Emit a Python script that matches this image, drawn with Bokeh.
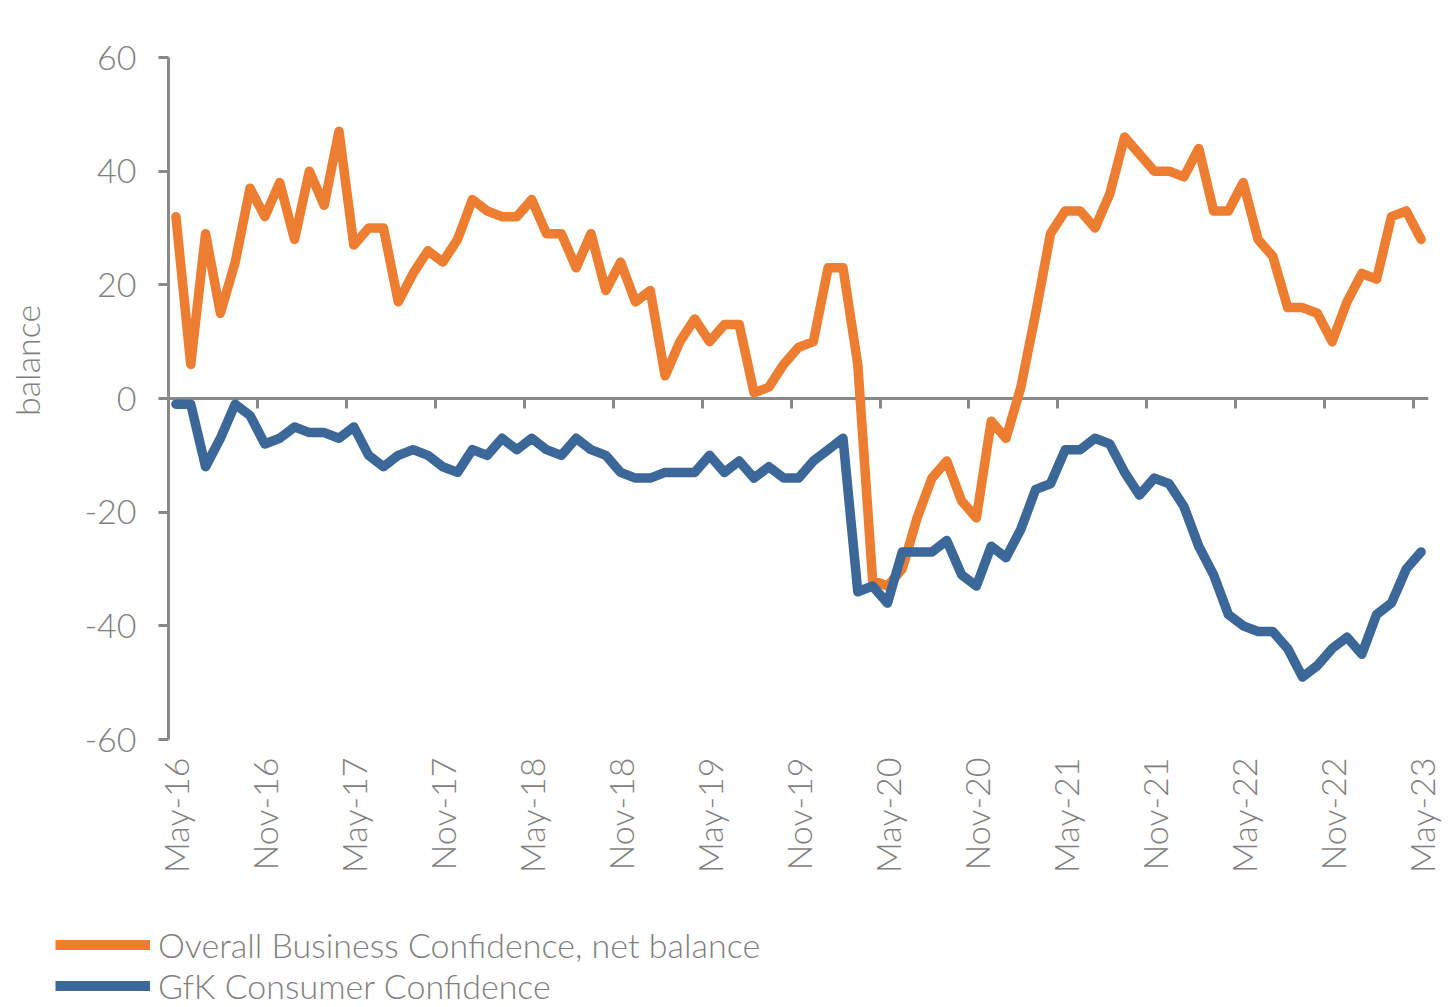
import numpy as np
import pandas as pd
from bokeh.plotting import figure
from bokeh.layouts import column, row
from bokeh.models import LinearAxis, FixedTicker, Legend, LegendItem, Range1d, Label
from bokeh.embed import file_html
from bokeh.resources import INLINE

# ---- data -------------------------------------------------------------
months = list(pd.date_range("2016-05-01", periods=85, freq="MS").strftime("%b-%y"))

business = [32, 6, 29, 15, 24, 37, 32, 38, 28, 40, 34, 47, 27, 30, 30, 17, 22, 26, 24, 28,
            35, 33, 32, 32, 35, 29, 29, 23, 29, 19, 24, 17, 19, 4, 10, 14, 10, 13, 13, 1,
            2, 6, 9, 10, 23, 23, 6, -32, -33, -30, -21, -14, -11, -18, -21, -4, -7, 2, 15, 29,
            33, 33, 30, 36, 46, 43, 40, 40, 39, 44, 33, 33, 38, 28, 25, 16, 16, 15, 10, 17,
            22, 21, 32, 33, 28]

consumer = [-1, -1, -12, -7, -1, -3, -8, -7, -5, -6, -6, -7, -5, -10, -12, -10, -9, -10, -12, -13,
            -9, -10, -7, -9, -7, -9, -10, -7, -9, -10, -13, -14, -14, -13, -13, -13, -10, -13, -11, -14,
            -12, -14, -14, -11, -9, -7, -34, -33, -36, -27, -27, -27, -25, -31, -33, -26, -28, -23, -16, -15,
            -9, -9, -7, -8, -13, -17, -14, -15, -19, -26, -31, -38, -40, -41, -41, -44, -49, -47, -44, -42,
            -45, -38, -36, -30, -27]

tick_labels = ["May-16", "Nov-16", "May-17", "Nov-17", "May-18", "Nov-18", "May-19", "Nov-19",
               "May-20", "Nov-20", "May-21", "Nov-21", "May-22", "Nov-22", "May-23"]
y_ticks = [-60, -40, -20, 0, 20, 40, 60]

series_names = ["Overall Business Confidence, net balance", "GfK Consumer Confidence"]
y_title = "balance"

# ---- style / layout ---------------------------------------------------
ORANGE = "#ED7D31"
BLUE = "#3C6799"
TEXT_GRAY = "#7F7F7F"
AXIS_GRAY = "#898989"
FONT = "Lato Light"
FS = "34px"
W = 1445
STRIP_W = 60          # narrow strip holding the y title
FRAME_LEFT = 168
FRAME_RIGHT = 1428
FRAME_TOP = 57
FRAME_BOTTOM = 739
MAIN_H = 904
LEGEND_H = 102
TITLE_X = 26          # anchor of the rotated y title inside the strip (px)
TITLE_Y = 6.7         # vertical centre of the y title, in axis units

x = list(range(len(months)))
tick_pos = [months.index(lab) for lab in tick_labels]
boundary_ticks = [t - 0.5 for t in tick_pos]


def no_frame_align(fig):
    try:
        fig.frame_align = False
    except AttributeError:
        pass


p = figure(width=W - STRIP_W, height=MAIN_H, output_backend="svg", toolbar_location=None,
           x_range=Range1d(-0.5, len(months) - 0.5), y_range=Range1d(min(y_ticks), max(y_ticks)),
           x_axis_type=None,
           min_border_left=FRAME_LEFT - STRIP_W, min_border_top=FRAME_TOP,
           min_border_right=W - FRAME_RIGHT, min_border_bottom=MAIN_H - FRAME_BOTTOM)
p.outline_line_color = None
p.ygrid.grid_line_color = None
p.background_fill_color = "white"
no_frame_align(p)

# y axis
yax = p.yaxis[0]
yax.ticker = FixedTicker(ticks=y_ticks)
yax.major_label_overrides = {v: str(v) for v in y_ticks}
yax.axis_line_color = AXIS_GRAY
yax.axis_line_width = 3
yax.major_tick_line_color = AXIS_GRAY
yax.major_tick_line_width = 3
yax.major_tick_out = 10
yax.major_tick_in = 0
yax.minor_tick_line_color = None
yax.major_label_text_font = FONT
yax.major_label_text_font_size = FS
yax.major_label_text_color = TEXT_GRAY
yax.major_label_standoff = 22

# bottom label axis (category labels, every 6 months)
lax = LinearAxis(ticker=FixedTicker(ticks=tick_pos),
                 major_label_overrides={pos: lab for pos, lab in zip(tick_pos, tick_labels)})
lax.axis_line_color = None
lax.major_tick_line_color = None
lax.minor_tick_line_color = None
lax.major_tick_out = 0
lax.major_tick_in = 0
lax.major_label_orientation = np.pi / 2
lax.major_label_standoff = 18
lax.major_label_text_font = FONT
lax.major_label_text_font_size = FS
lax.major_label_text_color = TEXT_GRAY
p.add_layout(lax, "below")

# axis crossing at zero with ticks between categories
zax = LinearAxis(fixed_location=0, ticker=FixedTicker(ticks=boundary_ticks),
                 major_label_overrides={t: "" for t in boundary_ticks})
zax.axis_line_color = AXIS_GRAY
zax.axis_line_width = 3
zax.major_tick_line_color = AXIS_GRAY
zax.major_tick_line_width = 3
zax.major_tick_out = 10
zax.major_tick_in = 0
zax.minor_tick_line_color = None
zax.major_label_standoff = 0
p.add_layout(zax, "below")

r1 = p.line(x, business, line_color=ORANGE, line_width=9.5,
            line_join="round", line_cap="round", level="overlay")
r2 = p.line(x, consumer, line_color=BLUE, line_width=9.5,
            line_join="round", line_cap="round", level="overlay")

# ---- strip with the y-axis title (shares the y range) -----------------
py = figure(width=STRIP_W, height=MAIN_H, output_backend="svg", toolbar_location=None,
            x_axis_type=None, y_axis_type=None,
            x_range=Range1d(0, STRIP_W), y_range=p.y_range,
            min_border_left=0, min_border_right=0,
            min_border_top=FRAME_TOP, min_border_bottom=MAIN_H - FRAME_BOTTOM)
py.outline_line_color = None
py.grid.visible = False
no_frame_align(py)
py.add_layout(Label(x=TITLE_X, y=TITLE_Y, text=y_title, angle=np.pi / 2,
                    text_align="center", text_baseline="alphabetic",
                    text_font=FONT, text_font_size=FS, text_color=TEXT_GRAY))

# ---- legend strip under the chart ------------------------------------
pl = figure(width=W, height=LEGEND_H, output_backend="svg", toolbar_location=None,
            x_axis_type=None, y_axis_type=None,
            x_range=Range1d(0, 1), y_range=Range1d(0, 1),
            min_border_left=0, min_border_right=0, min_border_top=0, min_border_bottom=0)
pl.outline_line_color = None
pl.grid.visible = False
no_frame_align(pl)
# legend keys (same series, not drawn in this strip)
l1 = pl.line(x, business, line_color=ORANGE, line_width=10, visible=False)
l2 = pl.line(x, consumer, line_color=BLUE, line_width=10, visible=False)

legend = Legend(items=[LegendItem(label=series_names[0], renderers=[l1]),
                       LegendItem(label=series_names[1], renderers=[l2])],
                location=(55, 0), orientation="vertical",
                glyph_width=95, glyph_height=41, label_height=41, label_standoff=8,
                spacing=0, padding=0, margin=0,
                border_line_color=None, background_fill_alpha=0, inactive_fill_alpha=0,
                label_text_font=FONT, label_text_font_size=FS, label_text_color=TEXT_GRAY)
pl.add_layout(legend)

layout = column(row(py, p, spacing=0), pl, spacing=0)
open("out.html", "w").write(file_html(layout, INLINE))
